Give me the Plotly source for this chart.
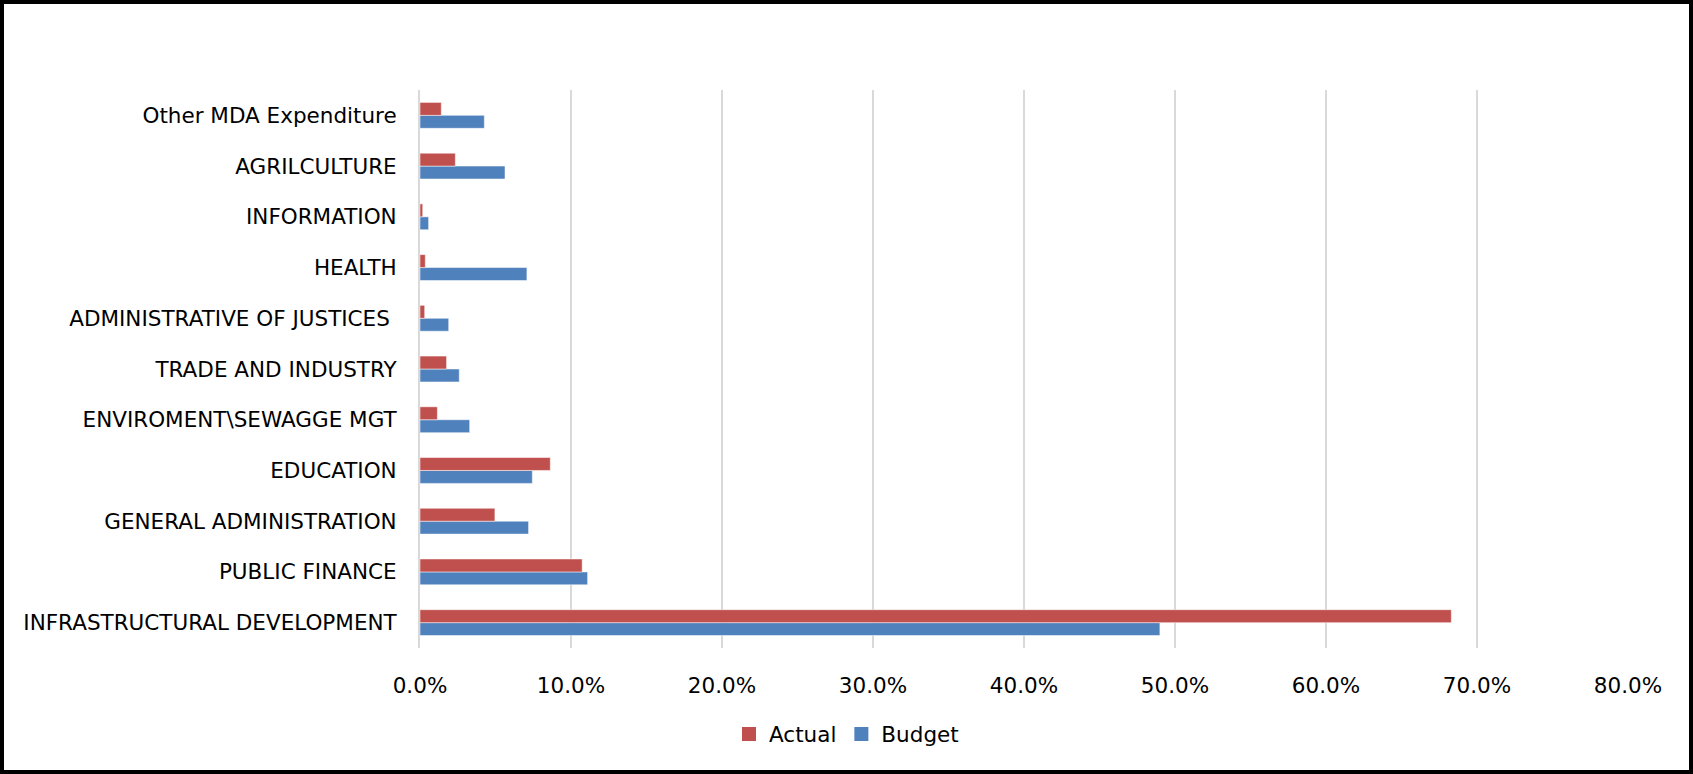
import plotly.graph_objects as go

categories = [
    "INFRASTRUCTURAL DEVELOPMENT",
    "PUBLIC FINANCE",
    "GENERAL ADMINISTRATION",
    "EDUCATION",
    "ENVIROMENT\\SEWAGGE MGT",
    "TRADE AND INDUSTRY",
    "ADMINISTRATIVE OF JUSTICES\u00a0",
    "HEALTH",
    "INFORMATION",
    "AGRILCULTURE",
    "Other MDA Expenditure",
]
actual = [0.683, 0.1074, 0.0496, 0.0863, 0.0115, 0.0176, 0.0031, 0.0035, 0.0018, 0.0234, 0.0141]
budget = [0.490, 0.1110, 0.0719, 0.0744, 0.0329, 0.0260, 0.0190, 0.0708, 0.0057, 0.0563, 0.0426]
x_ticks = [0, 0.1, 0.2, 0.3, 0.4, 0.5, 0.6, 0.7, 0.8]

W, H = 1693, 774
L, R, T, B = 420, 65, 90, 126
pw, ph = W - L - R, H - T - B

font = "DejaVu Sans, Verdana, sans-serif"
RED, BLUE = "#C0504D", "#4F81BD"

fig = go.Figure()
fig.add_trace(go.Bar(y=categories, x=budget, name="Budget", orientation="h", showlegend=False,
                     marker=dict(color=BLUE, line=dict(color="rgba(255,255,255,0.5)", width=1))))
fig.add_trace(go.Bar(y=categories, x=actual, name="Actual", orientation="h", showlegend=False,
                     marker=dict(color=RED, line=dict(color="rgba(255,255,255,0.5)", width=1))))
# legend entries with square swatches
for name, col in [("Actual", RED), ("Budget", BLUE)]:
    fig.add_trace(go.Scatter(x=[None], y=[None], mode="markers", name=name,
                             marker=dict(symbol="square", size=14, color=col)))

fig.update_layout(
    width=W, height=H,
    margin=dict(l=L, r=R, t=T, b=B, autoexpand=False),
    paper_bgcolor="white", plot_bgcolor="white",
    barmode="group", bargap=0.49, bargroupgap=0,
    font=dict(family=font, size=21.5, color="#000000"),
    legend=dict(orientation="h", traceorder="normal", x=(W / 2 - L) / pw, xanchor="center",
                y=-(734 - (T + ph)) / ph, yanchor="middle", font=dict(size=21.5),
                itemwidth=30, tracegroupgap=0),
    xaxis=dict(range=[0, 0.8], tickvals=x_ticks, tickformat=".1%", showgrid=True,
               gridcolor="#D9D9D9", gridwidth=2, zeroline=False, showline=False,
               ticks="", ticklabelstandoff=22, fixedrange=True),
    yaxis=dict(type="category", categoryorder="array", categoryarray=categories,
               showgrid=False, showline=True, linecolor="#D9D9D9",
               linewidth=2, ticks="", ticklabelstandoff=17, fixedrange=True),
    shapes=[dict(type="rect", xref="paper", yref="paper",
                 x0=-(L - 2) / pw, x1=1 + (R - 2) / pw,
                 y0=-(B - 2) / ph, y1=1 + (T - 2) / ph,
                 line=dict(color="black", width=4), layer="above")],
)

fig.write_html("out.html")
